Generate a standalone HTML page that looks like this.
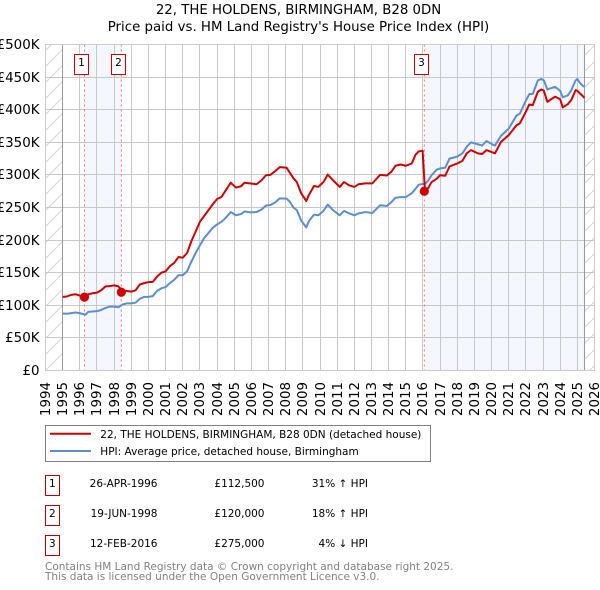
<!DOCTYPE html>
<html lang="en">
<head>
<meta charset="utf-8">
<title>22, THE HOLDENS, BIRMINGHAM, B28 0DN</title>
<style>
html,body{margin:0;padding:0;background:#fff;width:600px;height:590px;overflow:hidden}
svg{display:block}
text{font-family:"DejaVu Sans",sans-serif;fill:#000}
</style>
</head>
<body>
<svg id="chart" xmlns="http://www.w3.org/2000/svg" width="600" height="590" viewBox="0 0 600 590">
  <defs>
    <pattern id="hatch" patternUnits="userSpaceOnUse" width="16" height="16">
      <path d="M-2 2L2 -2M0 16L16 0M14 18L18 14" stroke="#d4d4d4" stroke-width="1" fill="none"/>
    </pattern>
  </defs>
  <text x="298.5" y="14" font-size="13.3" text-anchor="middle">22, THE HOLDENS, BIRMINGHAM, B28 0DN</text>
  <text x="298.5" y="31" font-size="13.35" text-anchor="middle">Price paid vs. HM Land Registry's House Price Index (HPI)</text>
  <g id="plot"></g>

  <g>
    <rect x="45.5" y="425.5" width="385" height="36" fill="#fff" stroke="#808080" stroke-width="1"/>
    <line x1="50" x2="91" y1="433.8" y2="433.8" stroke="#cc0000" stroke-width="2"/>
    <text x="100.3" y="438" font-size="10.5">22, THE HOLDENS, BIRMINGHAM, B28 0DN (detached house)</text>
    <line x1="50" x2="91" y1="451" y2="451" stroke="#5b8ed0" stroke-width="2"/>
    <text x="100.3" y="455" font-size="10.5">HPI: Average price, detached house, Birmingham</text>
  </g>

  <g font-size="10.5">
    <g>
      <rect x="45.5" y="475.5" width="14" height="20" fill="#fff" stroke="#b80000" stroke-width="1"/>
      <text x="52.3" y="487" text-anchor="middle">1</text>
      <text x="157.5" y="487" text-anchor="end">26-APR-1996</text>
      <text x="264.5" y="487" text-anchor="end">£112,500</text>
      <text x="368" y="487" text-anchor="end">31% ↑ HPI</text>
    </g>
    <g>
      <rect x="45.5" y="505.5" width="14" height="20" fill="#fff" stroke="#b80000" stroke-width="1"/>
      <text x="52.3" y="517" text-anchor="middle">2</text>
      <text x="157.5" y="517" text-anchor="end">19-JUN-1998</text>
      <text x="264.5" y="517" text-anchor="end">£120,000</text>
      <text x="368" y="517" text-anchor="end">18% ↑ HPI</text>
    </g>
    <g>
      <rect x="45.5" y="535.5" width="14" height="20" fill="#fff" stroke="#b80000" stroke-width="1"/>
      <text x="52.3" y="547" text-anchor="middle">3</text>
      <text x="157.5" y="547" text-anchor="end">12-FEB-2016</text>
      <text x="264.5" y="547" text-anchor="end">£275,000</text>
      <text x="368" y="547" text-anchor="end">4% ↓ HPI</text>
    </g>
  </g>

  <g font-size="10.5">
    <text x="45" y="570" style="fill:#808080">Contains HM Land Registry data © Crown copyright and database right 2025.</text>
    <text x="45" y="580" style="fill:#808080">This data is licensed under the Open Government Licence v3.0.</text>
  </g>
</svg>
<script>
var xTickYears = [1994,1995,1996,1997,1998,1999,2000,2001,2002,2003,2004,2005,2006,2007,2008,2009,2010,2011,2012,2013,2014,2015,2016,2017,2018,2019,2020,2021,2022,2023,2024,2025,2026];
var yTickValues = [0,50,100,150,200,250,300,350,400,450,500];
var yTickLabels = ["£0","£50K","£100K","£150K","£200K","£250K","£300K","£350K","£400K","£450K","£500K"];
var dates = [1995,1995.25,1995.5,1995.75,1996,1996.32,1996.5,1996.75,1997,1997.25,1997.5,1997.75,1998,1998.25,1998.47,1998.75,1999,1999.25,1999.5,1999.75,2000,2000.25,2000.5,2000.75,2001,2001.25,2001.5,2001.75,2002,2002.25,2002.5,2002.75,2003,2003.25,2003.5,2003.75,2004,2004.25,2004.5,2004.8,2005.1,2005.4,2005.6,2005.9,2006.3,2006.6,2006.85,2007.1,2007.4,2007.65,2008.05,2008.25,2008.45,2008.65,2008.9,2009.2,2009.35,2009.65,2009.9,2010.2,2010.45,2010.75,2011.15,2011.4,2011.7,2012,2012.25,2012.65,2013.05,2013.5,2013.9,2014.15,2014.4,2014.7,2015,2015.35,2015.55,2015.75,2015.98,2016.12,2016.3,2016.5,2016.8,2017,2017.3,2017.55,2018,2018.3,2018.55,2018.8,2019.2,2019.45,2019.7,2020.1,2020.2,2020.55,2021,2021.45,2021.65,2022,2022.2,2022.4,2022.7,2022.9,2023.05,2023.25,2023.7,2024,2024.15,2024.45,2024.65,2024.9,2025,2025.15,2025.35,2025.4];
var priceValues = [113,113.5,116,117,115,112.5,117,118.5,119.5,123,129,129.5,130.5,129,123,122,121,123,132,134,135.5,136,144,150,152,160,165,174,173,180,198,213,228,237,246,255,263,266,276,288,280.6,282.6,288,287,285.7,292,299.5,300,306,312,311,303,295,289,272,260,269,283,281.6,289,300.5,292,281.5,289,284,281.5,285.7,287,287,300,299,304.6,314,316,314,317.5,330,336,337,275,279.5,289,294,299.5,298.7,313,317.5,321.5,333,338,333,332,338,334,333,350.6,361,376,379,397,408,407,427.5,431,429,412,420,416,403.5,408.6,415,430,429,425,420,418];
var hpiValues = [87.5,87,88,89,88,85.5,90,90.5,91,93,96,98,98,97,101,103,103,104,110,113,113,114,122,126,128,134,139,146,146,152,167,180,192,203,211,219,224,228,234,243,238,240,244,242.6,243,247,253,253.6,258,264,263.6,258.6,250,246,230,219.5,229,239,238,244.7,254.5,246,238,244.7,241,238,241,243,241.6,253.4,252.4,258,265,266,266,272,278,285,286,286,291,299.5,308,310,311,325,328,333,343,350,347,345,352,346,345,360,371,391,394,414,424,424,445,447,445,431,435,429,419,422,430,445,447,441,436,435];
var saleDates = [1996.27,1998.42,2016.08];
var salePrices = [112.5,120,275];
var saleLabels = ["1","2","3"];
var dataStart = 1995;
var dataEnd = 2025.4;

var NS = "http://www.w3.org/2000/svg";
var plot = document.getElementById("plot");
var L = 45.5, R = 594.5, T = 44.5, B = 370.5;
function xScale(year){ return L + (year - 1994) * (R - L) / 32; }
function yScale(v){ return B - v * (B - T) / 500; }
function make(tag, attrs, parent){
  var n = document.createElementNS(NS, tag);
  for (var k in attrs) n.setAttribute(k, attrs[k]);
  (parent || plot).appendChild(n);
  return n;
}
function snap(v){ return Math.round(v - 0.5) + 0.5; }
var el;

// background, hatched out-of-range areas
el = make("rect", {x:L, y:T, width:xScale(dataStart)-L, height:B-T, fill:"url(#hatch)"});


el = make("rect", {x:xScale(dataEnd), y:T, width:R-xScale(dataEnd), height:B-T, fill:"url(#hatch)"});



// shaded ownership periods
el = make("rect", {x:xScale(saleDates[0]), y:T, width:xScale(saleDates[1])-xScale(saleDates[0]), height:B-T, fill:"#f4f7fe"});


el = make("rect", {x:xScale(saleDates[2]), y:T, width:xScale(dataEnd)-xScale(saleDates[2]), height:B-T, fill:"#f4f7fe"});



// grid lines and tick labels
yTickValues.forEach(function(v, i){
  var y = snap(yScale(v));
  var line = make("line", {x1:L, x2:R, y1:y, y2:y, stroke:"#c8c8c8", "stroke-width":1});
  
  
  var label = make("text", {x:39.5, y:y+4.5, "font-size":13.4, "text-anchor":"end"});
  
  
  label.textContent = yTickLabels[i];
});
xTickYears.forEach(function(year){
  var x = snap(xScale(year));
  var line = make("line", {x1:x, x2:x, y1:T, y2:B, stroke:"#c8c8c8", "stroke-width":1});
  
  
  var label = make("text", {"font-size":13.4, "text-anchor":"end", transform:"translate("+(x+4.5)+",382) rotate(-90)"});
  
  
  label.textContent = String(year);
});

// data range bounds
[dataStart, dataEnd].forEach(function(year){
  var x = snap(xScale(year));
  var line = make("line", {x1:x, x2:x, y1:T, y2:B, stroke:"#999999", "stroke-width":1});
  
  
});

// sale date markers
saleDates.forEach(function(d){
  var x = xScale(d);
  var line = make("line", {x1:x, x2:x, y1:T, y2:B, stroke:"#ff6b6b", "stroke-width":1, "stroke-dasharray":"2 3"});
  
  
});

// series
function pathFrom(xs, ys){
  return xs.map(function(d, i){ return (i ? "L" : "M") + xScale(d).toFixed(2) + " " + yScale(ys[i]).toFixed(2); }).join("");
}
el = make("path", {d:pathFrom(dates, hpiValues), fill:"none", stroke:"#5b8ed0", "stroke-width":2, "stroke-linejoin":"round"});


el = make("path", {d:pathFrom(dates, priceValues), fill:"none", stroke:"#cc0000", "stroke-width":2, "stroke-linejoin":"round"});



// sale points and numbered flags
saleDates.forEach(function(d, i){
  var x = xScale(d);
  var dot = make("circle", {cx:x, cy:yScale(salePrices[i]), r:4.6, fill:"#cc0000"});
  
  
  var fx = snap(x) - 10;
  var flag = make("rect", {x:fx, y:54.5, width:14, height:20, fill:"#fff", stroke:"#cc0000", "stroke-width":1});
  
  
  var t = make("text", {x:fx+7, y:66, "font-size":10.5, "text-anchor":"middle"});
  
  
  t.textContent = saleLabels[i];
});

// plot frame
el = make("rect", {x:L, y:T, width:R-L, height:B-T, fill:"none", stroke:"#cccccc", "stroke-width":1});


</script>
</body>
</html>
